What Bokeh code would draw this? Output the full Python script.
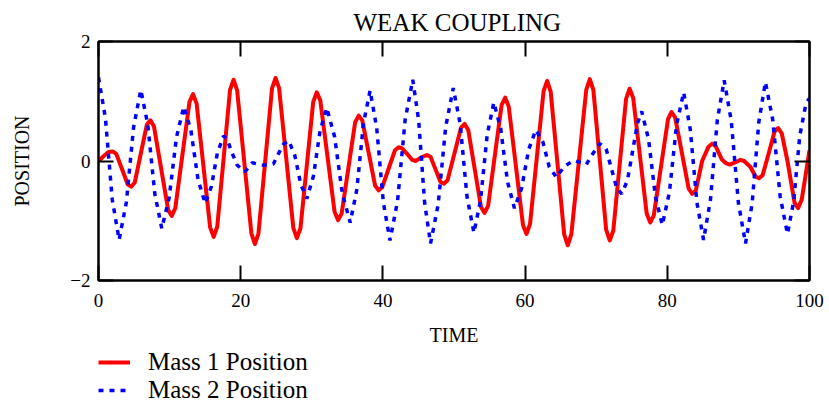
from bokeh.plotting import figure
from bokeh.layouts import column
from bokeh.models import (Range1d, LinearAxis, FixedTicker, Legend, LegendItem,
                          CustomJSTickFormatter)
from bokeh.embed import file_html
from bokeh.resources import INLINE

# ---- data ----
time_m1 = [0, 0.7, 1.4, 2.0, 2.5, 3.3, 4.1, 4.6, 5.1, 5.95, 6.8, 7.3,
           7.8, 8.8, 9.8, 10.3, 10.8, 11.8, 12.8, 13.3, 13.8, 14.75, 15.7, 16.2,
           16.7, 17.6, 18.5, 19.0, 19.5, 20.5, 21.5, 22.0, 22.5, 23.45, 24.4, 24.9,
           25.4, 26.4, 27.4, 27.9, 28.4, 29.3, 30.2, 30.7, 31.2, 32.2, 33.2, 33.7,
           34.2, 35.15, 36.1, 36.6, 37.1, 38.0, 38.9, 39.4, 39.9, 40.8, 41.7, 42.2,
           42.7, 43.4, 44.1, 44.6, 45.4, 46.2, 46.7, 47.4, 48.1, 48.6,
           49.1, 50.05, 51.0, 51.5, 52.0, 52.9, 53.8, 54.3, 54.8, 55.75, 56.7, 57.2,
           57.7, 58.7, 59.7, 60.2, 60.7, 61.65, 62.6, 63.1, 63.6, 64.55, 65.5, 66.0,
           66.5, 67.55, 68.6, 69.1, 69.6, 70.5, 71.4, 71.9, 72.4, 73.3, 74.2, 74.7,
           75.2, 76.15, 77.1, 77.6, 78.1, 79.1, 80.1, 80.6, 81.1, 82.05, 83.0, 83.5,
           84.0, 84.9, 85.8, 86.3, 86.8, 87.7, 88.3, 88.8, 89.6, 90.3,
           90.8, 91.7, 92.4, 92.9, 93.4, 94.2, 95.1, 95.6, 96.1, 96.9, 97.9, 98.4,
           98.9, 99.5, 100]
pos_m1 = [0.0, 0.08, 0.15, 0.16, 0.12, -0.135, -0.39, -0.43, -0.36, 0.125, 0.61, 0.68,
          0.58, -0.12, -0.82, -0.92, -0.79, 0.10, 0.99, 1.12, 0.96, -0.075, -1.11, -1.27,
          -1.10, 0.045, 1.19, 1.36, 1.18, -0.015, -1.21, -1.39, -1.21, 0.0, 1.21, 1.39,
          1.22, 0.05, -1.12, -1.29, -1.13, -0.07, 0.99, 1.15, 1.01, 0.08, -0.85, -0.99,
          -0.88, -0.115, 0.65, 0.76, 0.68, 0.135, -0.41, -0.49, -0.44, -0.13, 0.18, 0.23,
          0.21, 0.12, 0.02, 0.0, 0.06, 0.10, 0.07, -0.14, -0.35, -0.38,
          -0.32, 0.12, 0.56, 0.62, 0.52, -0.125, -0.77, -0.87, -0.75, 0.095, 0.94, 1.06,
          0.91, -0.08, -1.07, -1.22, -1.05, 0.06, 1.17, 1.34, 1.16, -0.035, -1.23, -1.41,
          -1.23, -0.02, 1.19, 1.37, 1.19, 0.02, -1.15, -1.33, -1.17, -0.06, 1.04, 1.21,
          1.06, 0.09, -0.88, -1.03, -0.91, -0.105, 0.70, 0.82, 0.73, 0.135, -0.46, -0.55,
          -0.50, 0.0, 0.24, 0.29, 0.25, 0.02, -0.04, -0.06, -0.02, 0.02,
          0.0, -0.10, -0.26, -0.29, -0.24, 0.10, 0.50, 0.55, 0.46, 0.0, -0.70, -0.79,
          -0.65, -0.2, 0.18]

time_m2 = [0, 0.97, 1.93, 2.9, 3.92, 4.93, 5.95, 6.93, 7.92, 8.9, 9.93, 10.97, 12.0, 13.0,
           14.0, 15.0, 15.87, 16.73, 17.6, 18.1, 18.8, 19.5, 20.6, 21.6, 23.2, 24.6, 25.3,
           26.0, 26.75, 27.6, 28.45, 29.3, 30.23, 31.17, 32.1, 33.2, 34.3, 35.4, 36.33, 37.27,
           38.2, 39.13, 40.07, 41.0, 42.07, 43.13, 44.2, 45.03, 45.87, 46.7, 47.77, 48.83,
           49.9, 50.87, 51.83, 52.8, 53.73, 54.67, 55.6, 56.57, 57.53, 58.5, 59.5, 60.5, 61.5,
           62.5, 63.4, 64.4, 65.6, 66.9, 68.6, 69.4, 70.5, 71.4, 72.4, 72.9, 73.6, 74.4, 75.1,
           75.8, 76.4, 77.37, 78.33, 79.3, 80.3, 81.3, 82.3, 83.23, 84.17, 85.1, 86.07, 87.03,
           88.0, 89.0, 90.0, 91.0, 91.93, 92.87, 93.8, 94.83, 95.87, 96.9, 97.77, 98.63, 99.5,
           100]
pos_m2 = [1.40, 0.72, -0.64, -1.32, -0.69, 0.56, 1.19, 0.61, -0.55, -1.13, -0.62, 0.40, 0.91,
          0.51, -0.31, -0.71, -0.43, 0.14, 0.42, 0.36, 0.13, -0.07, -0.18, -0.03, -0.07, -0.05,
          0.12, 0.28, 0.34, 0.10, -0.39, -0.63, -0.25, 0.51, 0.89, 0.41, -0.55, -1.03, -0.48,
          0.63, 1.18, 0.55, -0.70, -1.33, -0.66, 0.69, 1.36, 0.68, -0.70, -1.38, -0.73, 0.57,
          1.22, 0.62, -0.60, -1.20, -0.66, 0.44, 0.98, 0.54, -0.35, -0.79, -0.46, 0.19, 0.52,
          0.32, -0.10, -0.27, -0.08, 0.01, -0.06, 0.10, 0.29, 0.20, -0.24, -0.46, -0.55, -0.32,
          0.15, 0.63, 0.83, 0.36, -0.60, -1.07, -0.52, 0.60, 1.15, 0.53, -0.70, -1.32, -0.65,
          0.68, 1.35, 0.67, -0.70, -1.38, -0.71, 0.65, 1.32, 0.69, -0.59, -1.22, -0.68, 0.42,
          0.96, 1.05]

x_ticks = [0, 20, 40, 60, 80, 100]
y_ticks = [-2, 0, 2]
y_tick_labels = {-2: "\u22122", 0: "0", 2: "2"}
title_text = "WEAK COUPLING"
x_label = "TIME"
y_label = "POSITION"
series_names = ["Mass 1 Position", "Mass 2 Position"]
series_colors = ["#ff0000", "#0000ff"]

FONT = "Liberation Serif"

p = figure(frame_width=711, frame_height=239, x_range=Range1d(0, 100), y_range=Range1d(-2, 2),
           output_backend="svg", toolbar_location=None,
           min_border_left=98, min_border_right=20, min_border_top=41, min_border_bottom=0,
           x_axis_label=x_label, y_axis_label=y_label, title=title_text)
p.grid.visible = False
p.outline_line_color = "black"
p.outline_line_width = 2
p.background_fill_color = "white"
p.border_fill_color = "white"

p.title.text_font = FONT
p.title.text_font_size = "25px"
p.title.text_font_style = "normal"
p.title.text_color = "black"
p.title.align = "left"
p.title.offset = 255
p.title.standoff = 11

line1 = dict(line_color=series_colors[0], line_width=4, line_join="round")
line2 = dict(line_color=series_colors[1], line_width=3.5, line_dash="5 6")
p.line(time_m1, pos_m1, **line1)
p.line(time_m2, pos_m2, **line2)

def style_axis(ax, ticks, show_labels):
    ax.ticker = FixedTicker(ticks=ticks)
    ax.major_tick_in = 15
    ax.major_tick_out = 0
    ax.minor_tick_line_color = None
    ax.major_tick_line_color = "black"
    ax.major_tick_line_width = 2
    ax.axis_line_color = "black"
    ax.axis_line_width = 2
    ax.major_label_text_font = FONT
    ax.major_label_text_color = "black"
    ax.axis_label_text_font = FONT
    ax.axis_label_text_font_style = "normal"
    ax.axis_label_text_color = "black"
    if not show_labels:
        ax.formatter = CustomJSTickFormatter(code="return ''")
        ax.major_label_text_color = None
        ax.major_label_text_font_size = "1px"
        ax.major_label_standoff = 0

xa = p.xaxis[0]
style_axis(xa, x_ticks, True)
xa.major_label_text_font_size = "19px"
xa.major_label_standoff = 13
xa.axis_label_text_font_size = "20px"
xa.axis_label_standoff = 14

ya = p.yaxis[0]
style_axis(ya, y_ticks, True)
ya.major_label_overrides = y_tick_labels
ya.major_label_text_font_size = "19px"
ya.major_label_standoff = 8
ya.axis_label_text_font_size = "20px"
ya.axis_label_standoff = 34

top_ax = LinearAxis()
style_axis(top_ax, x_ticks, False)
p.add_layout(top_ax, "above")
right_ax = LinearAxis()
style_axis(right_ax, y_ticks, False)
p.add_layout(right_ax, "right")

# legend lives in its own strip below the chart; its lines carry the same
# series but the strip's x range lies outside the data, so only the legend shows
leg = figure(width=829, height=62, x_range=Range1d(500, 501), y_range=Range1d(0, 1),
             x_axis_type=None, y_axis_type=None, output_backend="svg",
             toolbar_location=None, min_border_left=97, min_border_right=0,
             min_border_top=0, min_border_bottom=0)
leg.grid.visible = False
leg.outline_line_color = None
lr1 = leg.line(time_m1, pos_m1, **line1)
lr2 = leg.line(time_m2, pos_m2, **line2)
legend = Legend(items=[LegendItem(label=series_names[0], renderers=[lr1]),
                       LegendItem(label=series_names[1], renderers=[lr2])],
                location="top_left", orientation="vertical",
                border_line_color=None, background_fill_alpha=0,
                padding=0, margin=0, spacing=0,
                glyph_width=32, glyph_height=28, label_height=28, label_standoff=18,
                label_text_font=FONT, label_text_font_size="25px", label_text_color="black")
leg.add_layout(legend)

layout = column(p, leg, spacing=0)
open("out.html", "w").write(file_html(layout, INLINE))
